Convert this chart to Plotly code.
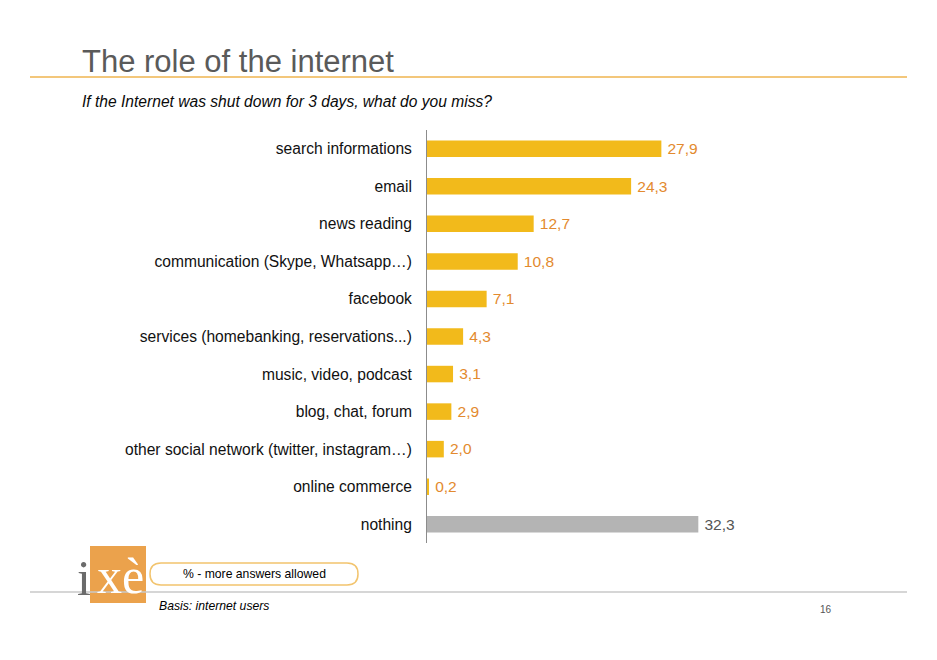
import plotly.graph_objects as go

# the page body adds an 8px offset, so the figure is drawn 8px smaller
OFF = 8
W, H = 937 - OFF, 660 - OFF
L, R, T, B = 427 - OFF, 174, 130 - OFF, 117

categories = [
    "search informations",
    "email",
    "news reading",
    "communication (Skype, Whatsapp\u2026)",
    "facebook",
    "services (homebanking, reservations...)",
    "music, video, podcast",
    "blog, chat, forum",
    "other social network (twitter, instagram\u2026)",
    "online commerce",
    "nothing",
]
values = [27.9, 24.3, 12.7, 10.8, 7.1, 4.3, 3.1, 2.9, 2.0, 0.2, 32.3]

YELLOW = "#F2BA1B"
GREY_BAR = "#B4B4B4"
ORANGE_TXT = "#E38A2E"
bar_colors = [GREY_BAR if c == "nothing" else YELLOW for c in categories]
label_colors = ["#555555" if c == "nothing" else ORANGE_TXT for c in categories]


def px(x, y):
    # screenshot pixel position -> paper coordinates
    x, y = x - OFF, y - OFF
    pw, ph = W - L - R, H - T - B
    return (x - L) / pw, (H - B - y) / ph


fig = go.Figure(
    go.Bar(
        x=values,
        y=categories,
        orientation="h",
        marker=dict(color=bar_colors, line=dict(width=0)),
        width=0.44,
        text=["\u2009" + f"{v:.1f}".replace(".", ",") for v in values],
        textposition="outside",
        textfont=dict(color=label_colors, size=16, family="Liberation Sans"),
        cliponaxis=False,
        hoverinfo="skip",
    )
)

fig.update_layout(
    width=W,
    height=H,
    margin=dict(l=L, r=R, t=T, b=B, pad=0),
    paper_bgcolor="white",
    plot_bgcolor="white",
    showlegend=False,
    font=dict(family="Liberation Sans, Arial, sans-serif", color="#111111"),
    xaxis=dict(range=[0, 40], visible=False, fixedrange=True),
    yaxis=dict(
        autorange="reversed",
        showline=True,
        linecolor="#8c8c8c",
        linewidth=1,
        ticks="",
        showgrid=False,
        tickfont=dict(size=15.6, color="#111111"),
        ticklabelstandoff=11,
        fixedrange=True,
    ),
)

shapes = []
annotations = []

# title and rule
x0, y0 = px(30, 77)
x1, _ = px(907, 77)
shapes.append(dict(type="line", xref="paper", yref="paper", x0=x0, x1=x1, y0=y0, y1=y0,
                   line=dict(color="#F3C77B", width=2)))
ax, ay = px(80, 61)
annotations.append(dict(text="The role of the internet", xref="paper", yref="paper", x=ax, y=ay,
                        xanchor="left", yanchor="middle", showarrow=False,
                        font=dict(size=31, color="#5a5a5a")))
ax, ay = px(80, 102)
annotations.append(dict(text="<i>If the Internet was shut down for 3 days, what do you miss?</i>",
                        xref="paper", yref="paper", x=ax, y=ay, xanchor="left", yanchor="middle",
                        showarrow=False, font=dict(size=15.6, color="#0a0a0a")))

# footer rule
x0, y0 = px(30, 592)
x1, _ = px(907, 592)
shapes.append(dict(type="line", xref="paper", yref="paper", x0=x0, x1=x1, y0=y0, y1=y0,
                   line=dict(color="#c8c8c8", width=1.5)))

# logo
x0, y0 = px(90, 546)
x1, y1 = px(146, 603)
shapes.append(dict(type="rect", xref="paper", yref="paper", x0=x0, x1=x1, y0=y1, y1=y0,
                   fillcolor="#EBA24C", line=dict(width=0), layer="below"))
ax, ay = px(84, 578)
annotations.append(dict(text="i", xref="paper", yref="paper", x=ax, y=ay, xanchor="center",
                        yanchor="middle", showarrow=False,
                        font=dict(size=50, color="#6b6b6b", family="Liberation Serif")))
ax, ay = px(120, 576)
annotations.append(dict(text="x\u00e8", xref="paper", yref="paper", x=ax, y=ay, xanchor="center",
                        yanchor="middle", showarrow=False,
                        font=dict(size=50, color="white", family="Liberation Serif")))

# pill note
r = 11
pa, pb = 150, 358
pt, pbm = 563, 585
xa, yt = px(pa, pt)
xb, yb = px(pb, pbm)
xr1, _ = px(pa + r, pt)
xr2, _ = px(pb - r, pt)
path = (f"M {xr1},{yt} L {xr2},{yt} "
        f"Q {xb},{yt} {xb},{(yt + yb) / 2} Q {xb},{yb} {xr2},{yb} "
        f"L {xr1},{yb} Q {xa},{yb} {xa},{(yt + yb) / 2} Q {xa},{yt} {xr1},{yt} Z")
shapes.append(dict(type="path", xref="paper", yref="paper", path=path, fillcolor="white",
                   line=dict(color="#F2C46E", width=1.5)))
ax, ay = px(254, 574)
annotations.append(dict(text="% - more answers allowed", xref="paper", yref="paper", x=ax, y=ay,
                        xanchor="center", yanchor="middle", showarrow=False,
                        font=dict(size=12.2, color="#000000")))

ax, ay = px(157, 606)
annotations.append(dict(text="<i>Basis: internet users</i>", xref="paper", yref="paper", x=ax, y=ay,
                        xanchor="left", yanchor="middle", showarrow=False,
                        font=dict(size=12.2, color="#000000")))
ax, ay = px(826, 609)
annotations.append(dict(text="16", xref="paper", yref="paper", x=ax, y=ay, xanchor="center",
                        yanchor="middle", showarrow=False, font=dict(size=10, color="#555555")))

fig.update_layout(shapes=shapes, annotations=annotations)

fig.write_html("out.html")
